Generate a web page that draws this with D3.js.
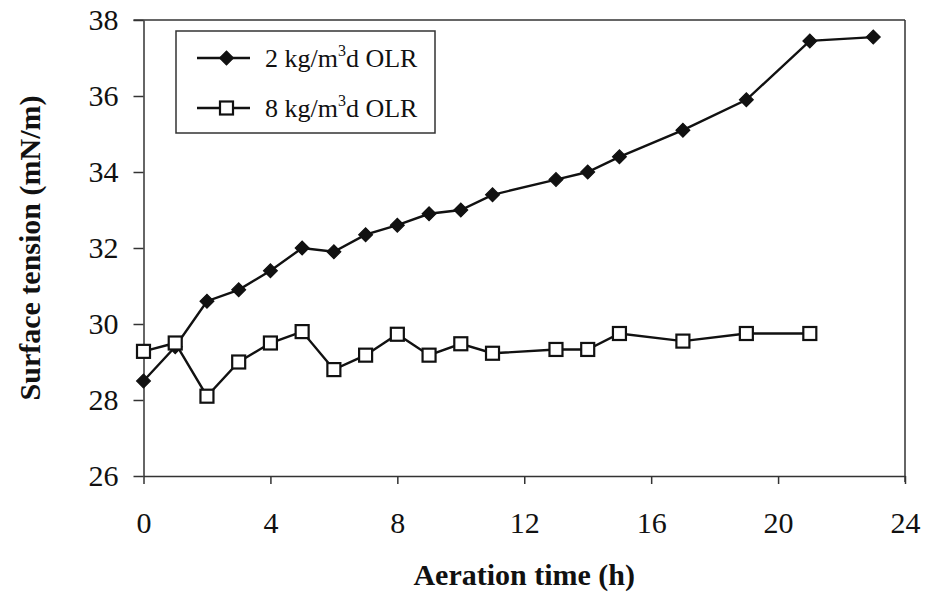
<!DOCTYPE html>
<html>
<head>
<meta charset="utf-8">
<script src="https://cdn.jsdelivr.net/npm/d3@7"></script>
<style>
  body { margin: 0; background: #fff; }
  svg { display: block; font-family: 'Liberation Serif', 'Times New Roman', serif; }
  .axis path, .axis line { stroke: #333; stroke-width: 1.5px; }
  .axis text { font-size: 30px; fill: #111; font-family: 'Liberation Serif', serif; }
  .title { font-size: 30px; font-weight: bold; fill: #111; }
  .legend text { font-size: 26px; fill: #111; }
</style>
</head>
<body>
<svg width="927" height="596"></svg>
<script>
// Data
var hours2 = [0, 1, 2, 3, 4, 5, 6, 7, 8, 9, 10, 11, 13, 14, 15, 17, 19, 21, 23];
var tension2 = [28.5, 29.4, 30.6, 30.9, 31.4, 32.0, 31.9, 32.35, 32.6, 32.9, 33.0, 33.4, 33.8, 34.0, 34.4, 35.1, 35.9, 37.45, 37.55];

var hours8 = [0, 1, 2, 3, 4, 5, 6, 7, 8, 9, 10, 11, 13, 14, 15, 17, 19, 21];
var tension8 = [29.28, 29.5, 28.1, 29.0, 29.5, 29.8, 28.8, 29.18, 29.73, 29.18, 29.48, 29.23, 29.33, 29.33, 29.75, 29.55, 29.75, 29.75];

var xTicks = [0, 4, 8, 12, 16, 20, 24];
var yTicks = [26, 28, 30, 32, 34, 36, 38];
var seriesNames = ['2 kg/m', '8 kg/m'];

var svg = d3.select('svg');

// scales
var x = d3.scaleLinear().domain([0, 24]).range([143.5, 905]);
var y = d3.scaleLinear().domain([26, 38]).range([476, 20]);

// frame lines (top and right)
svg.append('line')
  .attr('x1', x(0) - 10).attr('x2', x(24))
  .attr('y1', y(38)).attr('y2', y(38))
  .attr('stroke', '#333').attr('stroke-width', 1.5);
svg.append('line')
  .attr('x1', x(24)).attr('x2', x(24))
  .attr('y1', y(38)).attr('y2', y(26) + 6)
  .attr('stroke', '#333').attr('stroke-width', 1.5);

// axes
svg.append('g')
  .attr('class', 'axis')
  .attr('transform', 'translate(0,' + y(26) + ')')
  .call(d3.axisBottom(x).tickValues(xTicks).tickSize(8).tickSizeOuter(0).tickPadding(28));

svg.append('g')
  .attr('class', 'axis')
  .attr('transform', 'translate(' + x(0) + ',0)')
  .call(d3.axisLeft(y).tickValues(yTicks).tickSize(10).tickSizeOuter(0).tickPadding(15));

// axis titles
svg.append('text')
  .attr('class', 'title')
  .attr('x', (x(0) + x(24)) / 2)
  .attr('y', 585)
  .attr('text-anchor', 'middle')
  .text('Aeration time (h)');

svg.append('text')
  .attr('class', 'title')
  .attr('transform', 'translate(40,' + (y(26) + y(38)) / 2 + ') rotate(-90)')
  .attr('text-anchor', 'middle')
  .text('Surface tension (mN/m)');

// series
var line = d3.line()
  .x(function (d) { return x(d[0]); })
  .y(function (d) { return y(d[1]); });

var data2 = d3.zip(hours2, tension2);
var data8 = d3.zip(hours8, tension8);

var diamond = d3.symbol().type(d3.symbolSquare).size(95);

function drawDiamond(sel) {
  sel.append('path')
    .attr('d', diamond)
    .attr('transform', 'rotate(45)')
    .attr('fill', '#111')
    .attr('stroke', '#111')
    .attr('stroke-width', 1.2);
}
function drawSquare(sel) {
  sel.append('rect')
    .attr('x', -6.5).attr('y', -6.5)
    .attr('width', 13).attr('height', 13)
    .attr('fill', '#fff')
    .attr('stroke', '#111')
    .attr('stroke-width', 2.2);
}

svg.append('path')
  .datum(data8)
  .attr('fill', 'none')
  .attr('stroke', '#111')
  .attr('stroke-width', 2.4)
  .attr('d', line);

svg.append('path')
  .datum(data2)
  .attr('fill', 'none')
  .attr('stroke', '#111')
  .attr('stroke-width', 2.4)
  .attr('d', line);

svg.append('g').selectAll('g')
  .data(data2)
  .enter()
  .append('g')
  .attr('transform', function (d) { return 'translate(' + x(d[0]) + ',' + y(d[1]) + ')'; })
  .call(drawDiamond);

svg.append('g').selectAll('g')
  .data(data8)
  .enter()
  .append('g')
  .attr('transform', function (d) { return 'translate(' + x(d[0]) + ',' + y(d[1]) + ')'; })
  .call(drawSquare);

// legend
var legend = svg.append('g').attr('class', 'legend');
legend.append('rect')
  .attr('x', 176).attr('y', 31)
  .attr('width', 259).attr('height', 102)
  .attr('fill', '#fff')
  .attr('stroke', '#333')
  .attr('stroke-width', 1.5);

var items = legend.selectAll('g.item')
  .data(seriesNames)
  .enter()
  .append('g')
  .attr('class', 'item')
  .attr('transform', function (d, i) { return 'translate(0,' + (58 + i * 50) + ')'; });

items.append('line')
  .attr('x1', 197).attr('x2', 250)
  .attr('stroke', '#111').attr('stroke-width', 2.4);

items.each(function (d, i) {
  var m = d3.select(this).append('g').attr('transform', 'translate(226.5,0)');
  if (i === 0) drawDiamond(m); else drawSquare(m);
});

var labels = items.append('text')
  .attr('x', 265)
  .attr('y', 9);
labels.append('tspan').text(function (d) { return d; });
labels.append('tspan').attr('font-size', '16px').attr('dy', -11).text('3');
labels.append('tspan').attr('dy', 11).text('d OLR');
</script>
</body>
</html>
